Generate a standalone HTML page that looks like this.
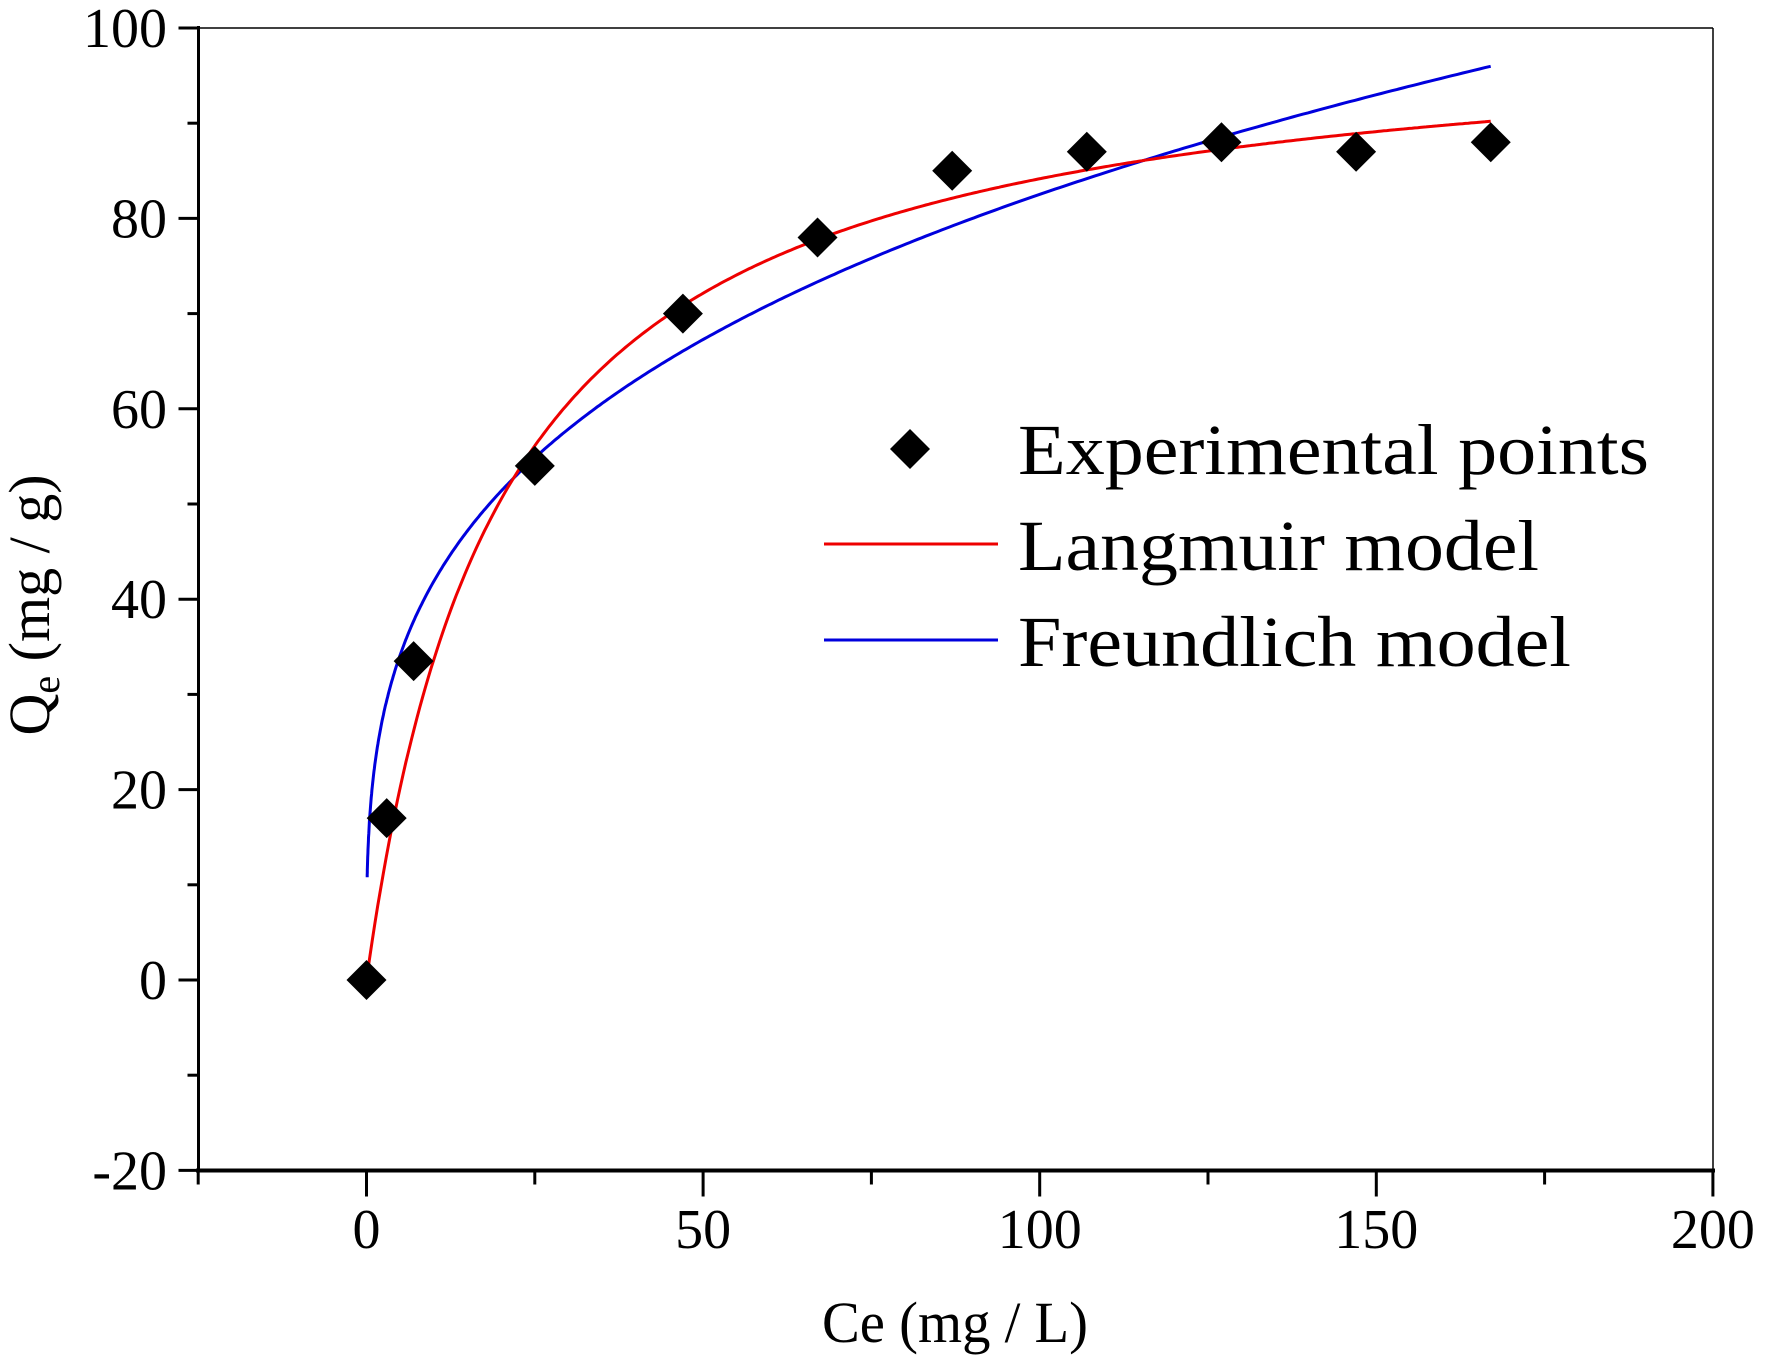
<!DOCTYPE html>
<html><head><meta charset="utf-8"><style>body{margin:0;background:#fff}svg{display:block}</style></head>
<body>
<svg id="s" width="1768" height="1368" xmlns="http://www.w3.org/2000/svg" font-family="Liberation Serif, serif">
<rect width="1768" height="1368" fill="#fff"/>
<g id="plot"></g>
<line x1="198.5" y1="28" x2="1713" y2="28" stroke="#000" stroke-width="1.5"/>
<line x1="1713" y1="28" x2="1713" y2="1170.5" stroke="#000" stroke-width="1.5"/>
<line x1="198.5" y1="26" x2="198.5" y2="1172" stroke="#000" stroke-width="3"/>
<line x1="196" y1="1170.5" x2="1715" y2="1170.5" stroke="#000" stroke-width="4"/>
<g id="ticks" stroke="#000" stroke-width="3"></g>
<g id="labels" font-size="56" fill="#000"></g>
<text x="955" y="1342" font-size="58" text-anchor="middle" textLength="266" lengthAdjust="spacingAndGlyphs">Ce (mg / L)</text>
<text transform="translate(49,605) rotate(-90)" font-size="58" text-anchor="middle">Q<tspan font-size="40" dy="10">e</tspan><tspan dy="-10"> (mg / g)</tspan></text>
<path d="M910,429 L930,449 L910,469 L890,449 Z" fill="#000"/>
<line x1="824" y1="544" x2="998" y2="544" stroke="#e00" stroke-width="3"/>
<line x1="824" y1="640" x2="998" y2="640" stroke="#00d" stroke-width="3"/>
<text x="1018" y="474" font-size="72" textLength="631" lengthAdjust="spacingAndGlyphs">Experimental points</text>
<text x="1018" y="570" font-size="72" textLength="521" lengthAdjust="spacingAndGlyphs">Langmuir model</text>
<text x="1018" y="666" font-size="72" textLength="553" lengthAdjust="spacingAndGlyphs">Freundlich model</text>
</svg>
<script>
const X=c=>366.5+c*6.732, Y=q=>980-q*9.52;
const NS="http://www.w3.org/2000/svg";
function el(p,t,a,txt){const e=document.createElementNS(NS,t);for(const k in a)e.setAttribute(k,a[k]);if(txt!==undefined)e.textContent=txt;document.getElementById(p).appendChild(e);return e;}
let r="",b="";
for(let i=0;i<=400;i++){const c=167*i/400;r+=(i?"L":"M")+X(c).toFixed(1)+","+Y(101*0.05*c/(1+0.05*c)).toFixed(1);
const cf=0.1+(167-0.1)*Math.pow(i/400,2);b+=(i?"L":"M")+X(cf).toFixed(1)+","+Y(21.25*Math.pow(cf,0.2946)).toFixed(1);}
el("plot","path",{d:b,fill:"none",stroke:"#00d","stroke-width":3});
el("plot","path",{d:r,fill:"none",stroke:"#e00","stroke-width":3});
[[0,0],[3,17],[7,33.5],[25,54],[47,70],[67,78],[87,85],[107,87],[127,88],[147,87],[167,88]].forEach(([c,q])=>{const x=X(c),y=Y(q);el("plot","path",{d:`M${x},${y-20}L${x+20},${y}L${x},${y+20}L${x-20},${y}Z`,fill:"#000"});});
for(let c=-25;c<=200;c+=25){const maj=c%50==0;el("ticks","line",{x1:X(c),y1:1170.5,x2:X(c),y2:1170.5+(maj?26:14)});if(maj)el("labels","text",{x:X(c),y:1248,"text-anchor":"middle"},String(c));}
for(let q=-20;q<=100;q+=10){const maj=q%20==0;el("ticks","line",{x1:198.5,y1:Y(q),x2:198.5-(maj?20:11),y2:Y(q)});if(maj)el("labels","text",{x:167,y:Y(q)+19,"text-anchor":"end"},String(q));}
</script>
</body></html>
